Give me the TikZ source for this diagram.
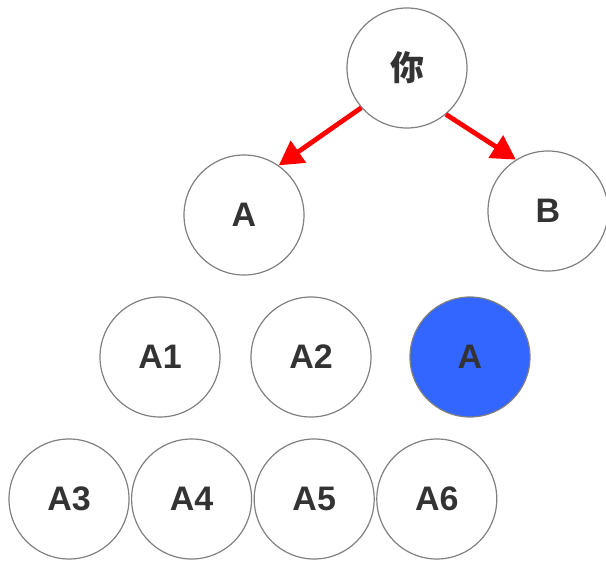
\documentclass[tikz,border=0pt]{standalone}
\usepackage{fontspec}
\setmainfont{Liberation Sans}
\newfontfamily\cjk{Noto Sans CJK SC}
\usetikzlibrary{arrows.meta}

\definecolor{ringgray}{RGB}{128,128,128}
\definecolor{labelgray}{RGB}{51,51,51}
\definecolor{hitblue}{RGB}{51,102,255}

\tikzset{
	treepicture/.style = {
		x = 0.5pt,
		y = -0.5pt,
		node distance = 61.3pt,
		arrow/.style = {
			draw = red,
			line width = 2.4pt,
			-{Triangle[length = 12pt, width = 13pt]},
		}
	},
	treenode/.style = {
		circle,
		draw = ringgray,
		line width = 0.6pt,
		minimum size = 60pt,
		inner sep = 0pt,
		text = labelgray,
		font = \fontsize{17}{20}\selectfont\bfseries
	},
	hitnode/.style = {
		fill = hitblue
	}
}

\begin{document}
\begin{tikzpicture}[treepicture]
	\useasboundingbox (0,0) rectangle (606,562);

	\node[treenode] (you) at (407,68) {\cjk\bfseries 你};

	\node[treenode] (A) at (244,215) {A};
	\node[treenode] (B) at (548,211) {B};

	\node[treenode] (A1) at (160,357) {A1};
	\node[treenode] (A2) at (311,357) {A2};
	\node[treenode, hitnode] (Ahit) at (470,357) {A};

	\node[treenode] (A3) at (69,499) {A3};
	\node[treenode, right of = A3] (A4) {A4};
	\node[treenode, right of = A4] (A5) {A5};
	\node[treenode, right of = A5] (A6) {A6};

	\begin{scope}[every path/.style = arrow]
		\path (you.221) to (A.55);
		\path (you.310) to (B.122);
	\end{scope}
\end{tikzpicture}
\end{document}
